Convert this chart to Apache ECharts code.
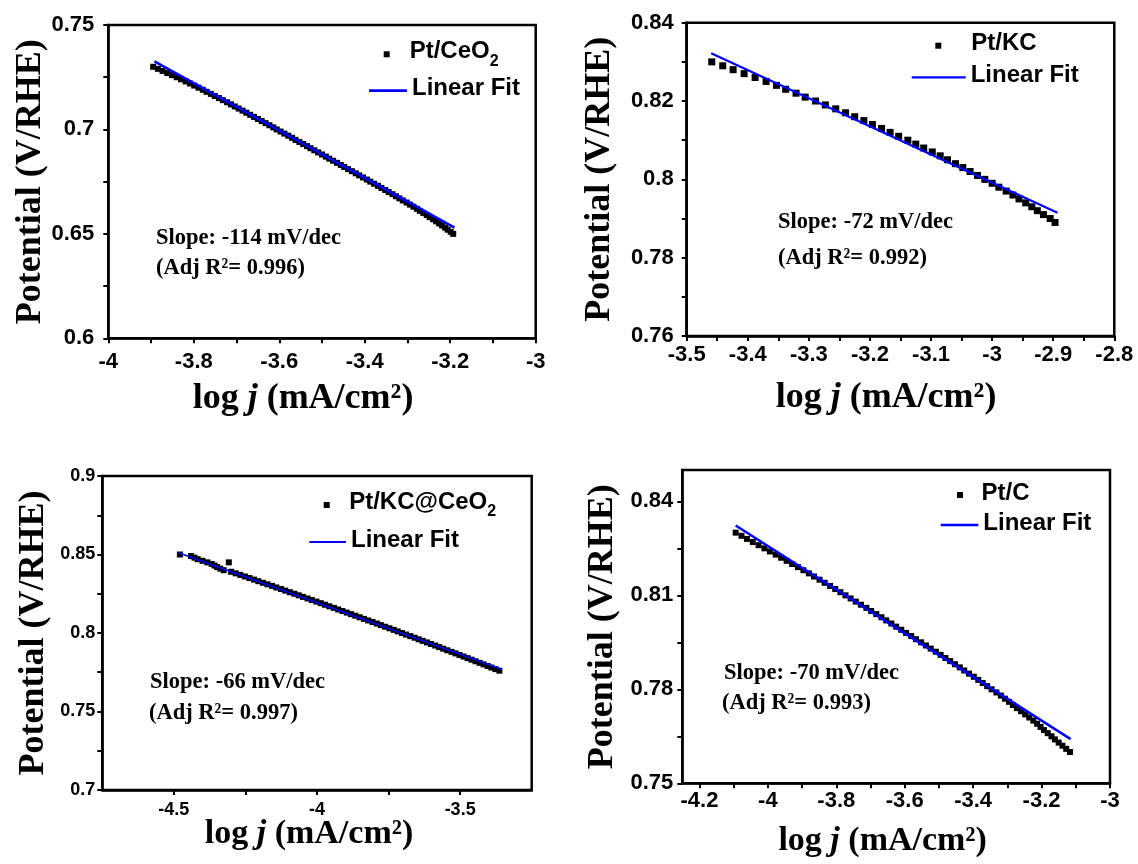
<!DOCTYPE html>
<html>
<head>
<meta charset="utf-8">
<script src="https://cdn.jsdelivr.net/npm/echarts@6/dist/echarts.min.js"></script>
<style>
html,body{margin:0;padding:0;background:#ffffff;}
#chart{width:1138px;height:864px;}
</style>
</head>
<body>
<div id="chart"></div>
<script>
// ---------------- Panel 1: Pt/CeO2 ----------------
const p1Name = 'Pt/CeO2';
const p1X = [-3.895,-3.884,-3.873,-3.862,-3.851,-3.840,-3.830,-3.819,-3.809,-3.799,
  -3.789,-3.779,-3.770,-3.760,-3.751,-3.741,-3.732,-3.722,-3.713,-3.704,
  -3.695,-3.686,-3.677,-3.668,-3.659,-3.650,-3.641,-3.632,-3.623,-3.614,
  -3.606,-3.597,-3.588,-3.579,-3.570,-3.562,-3.553,-3.544,-3.535,-3.527,
  -3.518,-3.509,-3.500,-3.491,-3.483,-3.474,-3.465,-3.456,-3.448,-3.439,
  -3.430,-3.421,-3.413,-3.404,-3.395,-3.387,-3.378,-3.369,-3.361,-3.352,
  -3.344,-3.335,-3.327,-3.319,-3.311,-3.302,-3.294,-3.286,-3.278,-3.271,
  -3.263,-3.255,-3.248,-3.240,-3.233,-3.226,-3.219,-3.212,-3.206,-3.199,
  -3.193];
const p1Y = [0.730,0.729,0.728,0.727,0.726,0.725,0.724,0.723,0.722,0.721,
  0.720,0.719,0.718,0.717,0.716,0.715,0.714,0.713,0.712,0.711,
  0.710,0.709,0.708,0.707,0.706,0.705,0.704,0.703,0.702,0.701,
  0.700,0.699,0.698,0.697,0.696,0.695,0.694,0.693,0.692,0.691,
  0.690,0.689,0.688,0.687,0.686,0.685,0.684,0.683,0.682,0.681,
  0.680,0.679,0.678,0.677,0.676,0.675,0.674,0.673,0.672,0.671,
  0.670,0.669,0.668,0.667,0.666,0.665,0.664,0.663,0.662,0.661,
  0.660,0.659,0.658,0.657,0.656,0.655,0.654,0.653,0.652,0.651,
  0.650];
const p1FitX = [-3.892, -3.190];
const p1FitY = [0.7326, 0.6530];
const p1XTicks = [-4,-3.9,-3.8,-3.7,-3.6,-3.5,-3.4,-3.3,-3.2,-3.1,-3];
const p1XLabels = [-4,-3.8,-3.6,-3.4,-3.2,-3];
const p1YTicks = [0.6,0.625,0.65,0.675,0.7,0.725,0.75];
const p1YLabels = [0.6,0.65,0.7,0.75];
const p1Notes = ['Slope: -114 mV/dec', '(Adj R\u00B2= 0.996)'];

// ---------------- Panel 2: Pt/KC ----------------
const p2Name = 'Pt/KC';
const p2X = [-3.459,-3.441,-3.424,-3.406,-3.388,-3.370,-3.353,-3.338,-3.321,-3.306,
  -3.289,-3.273,-3.256,-3.240,-3.225,-3.210,-3.196,-3.181,-3.167,-3.153,
  -3.138,-3.125,-3.112,-3.098,-3.085,-3.073,-3.060,-3.048,-3.036,-3.024,
  -3.012,-3.000,-2.989,-2.977,-2.966,-2.956,-2.945,-2.935,-2.926,-2.916,
  -2.905,-2.897];
const p2Y = [0.830,0.829,0.828,0.827,0.826,0.825,0.824,0.823,0.822,0.821,
  0.820,0.819,0.818,0.817,0.816,0.815,0.814,0.813,0.812,0.811,
  0.810,0.809,0.808,0.807,0.806,0.805,0.804,0.803,0.802,0.801,
  0.800,0.799,0.798,0.797,0.796,0.795,0.794,0.793,0.792,0.791,
  0.790,0.789];
const p2FitX = [-3.460, -2.893];
const p2FitY = [0.8322, 0.7915];
const p2XTicks = [-3.5,-3.45,-3.4,-3.35,-3.3,-3.25,-3.2,-3.15,-3.1,-3.05,-3,-2.95,-2.9,-2.85,-2.8];
const p2XLabels = [-3.5,-3.4,-3.3,-3.2,-3.1,-3,-2.9,-2.8];
const p2YTicks = [0.76,0.77,0.78,0.79,0.8,0.81,0.82,0.83,0.84];
const p2YLabels = [0.76,0.78,0.8,0.82,0.84];
const p2Notes = ['Slope: -72 mV/dec', '(Adj R\u00B2= 0.992)'];

// ---------------- Panel 3: Pt/KC@CeO2 ----------------
const p3Name = 'Pt/KC@CeO2';
const p3X = [-4.479,-4.440,-4.428,-4.417,-4.400,-4.383,-4.368,-4.358,-4.349,-4.338,-4.326,-4.308,
  -4.300,-4.284,-4.268,-4.252,-4.236,-4.220,-4.205,-4.189,-4.173,-4.157,
  -4.142,-4.126,-4.111,-4.095,-4.079,-4.064,-4.049,-4.033,-4.018,-4.002,
  -3.987,-3.972,-3.957,-3.941,-3.926,-3.911,-3.896,-3.881,-3.866,-3.851,
  -3.836,-3.821,-3.806,-3.791,-3.777,-3.762,-3.747,-3.732,-3.718,-3.703,
  -3.689,-3.674,-3.659,-3.645,-3.631,-3.616,-3.602,-3.587,-3.573,-3.559,
  -3.545,-3.530,-3.516,-3.502,-3.488,-3.474,-3.460,-3.446,-3.432,-3.418,
  -3.404,-3.391,-3.377,-3.363];
const p3Y = [0.850,0.849,0.848,0.847,0.846,0.845,0.844,0.843,0.842,0.841,0.840,0.845,
  0.839,0.838,0.837,0.836,0.835,0.834,0.833,0.832,0.831,0.830,
  0.829,0.828,0.827,0.826,0.825,0.824,0.823,0.822,0.821,0.820,
  0.819,0.818,0.817,0.816,0.815,0.814,0.813,0.812,0.811,0.810,
  0.809,0.808,0.807,0.806,0.805,0.804,0.803,0.802,0.801,0.800,
  0.799,0.798,0.797,0.796,0.795,0.794,0.793,0.792,0.791,0.790,
  0.789,0.788,0.787,0.786,0.785,0.784,0.783,0.782,0.781,0.780,
  0.779,0.778,0.777,0.776];
const p3FitX = [-4.484, -3.355];
const p3FitY = [0.8511, 0.7769];
const p3XTicks = [-4.5,-4.25,-4,-3.75,-3.5];
const p3XLabels = [-4.5,-4,-3.5];
const p3YTicks = [0.7,0.725,0.75,0.775,0.8,0.825,0.85,0.875,0.9];
const p3YLabels = [0.7,0.75,0.8,0.85,0.9];
const p3Notes = ['Slope: -66 mV/dec', '(Adj R\u00B2= 0.997)'];

// ---------------- Panel 4: Pt/C ----------------
const p4Name = 'Pt/C';
const p4X = [-4.094,-4.077,-4.061,-4.044,-4.027,-4.010,-3.994,-3.977,-3.961,-3.945,
  -3.929,-3.912,-3.896,-3.880,-3.865,-3.849,-3.834,-3.818,-3.803,-3.788,
  -3.773,-3.758,-3.743,-3.728,-3.712,-3.698,-3.683,-3.668,-3.654,-3.639,
  -3.625,-3.610,-3.596,-3.581,-3.567,-3.552,-3.538,-3.524,-3.509,-3.495,
  -3.481,-3.467,-3.453,-3.439,-3.426,-3.412,-3.398,-3.385,-3.372,-3.359,
  -3.346,-3.332,-3.319,-3.307,-3.295,-3.284,-3.272,-3.260,-3.248,-3.236,
  -3.224,-3.213,-3.203,-3.193,-3.182,-3.171,-3.161,-3.150,-3.139,-3.128,
  -3.117];
const p4Y = [0.830,0.829,0.828,0.827,0.826,0.825,0.824,0.823,0.822,0.821,
  0.820,0.819,0.818,0.817,0.816,0.815,0.814,0.813,0.812,0.811,
  0.810,0.809,0.808,0.807,0.806,0.805,0.804,0.803,0.802,0.801,
  0.800,0.799,0.798,0.797,0.796,0.795,0.794,0.793,0.792,0.791,
  0.790,0.789,0.788,0.787,0.786,0.785,0.784,0.783,0.782,0.781,
  0.780,0.779,0.778,0.777,0.776,0.775,0.774,0.773,0.772,0.771,
  0.770,0.769,0.768,0.767,0.766,0.765,0.764,0.763,0.762,0.761,
  0.760];
const p4FitX = [-4.094, -3.115];
const p4FitY = [0.8323, 0.7641];
const p4XTicks = [-4.2,-4.1,-4,-3.9,-3.8,-3.7,-3.6,-3.5,-3.4,-3.3,-3.2,-3.1,-3];
const p4XLabels = [-4.2,-4,-3.8,-3.6,-3.4,-3.2,-3];
const p4YTicks = [0.75,0.765,0.78,0.795,0.81,0.825,0.84];
const p4YLabels = [0.75,0.78,0.81,0.84];
const p4Notes = ['Slope: -70 mV/dec', '(Adj R\u00B2= 0.993)'];

const fitName = 'Linear Fit';
const yTitle = 'Potential (V/RHE)';

// ---------------- layout / style (not data) ----------------
const SANS = 'Liberation Sans, Arial, sans-serif';
const SERIF = 'Liberation Serif, Times New Roman, serif';
const BLUE = '#0000ff';

const panels = [
  {name:p1Name, x:p1X, y:p1Y, fx:p1FitX, fy:p1FitY, xt:p1XTicks, xl:p1XLabels, yt:p1YTicks, yl:p1YLabels, notes:p1Notes,
   grid:{left:108.3, top:25, width:427.4, height:313.3}, xr:[-4,-3], yr:[0.6,0.75],
   lab:22, xMargin:13, yMargin:14, titleSize:36, xGap:42, xPad:38, yGap:60,
   sym:6, lw:2.7,
   leg:{sq:[383.7,39.3], sqPad:15, ln:[369,76.7], lnW:38},
   note:[[156,238],[156,268]]},
  {name:p2Name, x:p2X, y:p2Y, fx:p2FitX, fy:p2FitY, xt:p2XTicks, xl:p2XLabels, yt:p2YTicks, yl:p2YLabels, notes:p2Notes,
   grid:{left:686.7, top:22.7, width:427.6, height:313.3}, xr:[-3.5,-2.8], yr:[0.76,0.84],
   lab:22, xMargin:8, yMargin:13, titleSize:36, xGap:44, xPad:29, yGap:69,
   sym:7, lw:2.2,
   leg:{sq:[935.3,31.7], sqPad:25, ln:[911.7,63.3], lnW:54},
   note:[[778,222],[778,258]]},
  {name:p3Name, x:p3X, y:p3Y, fx:p3FitX, fy:p3FitY, xt:p3XTicks, xl:p3XLabels, yt:p3YTicks, yl:p3YLabels, notes:p3Notes,
   grid:{left:102.3, top:476, width:429.4, height:314}, xr:[-4.75,-3.25], yr:[0.7,0.9],
   lab:18, xMargin:11, yMargin:7, titleSize:34, xGap:27, xPad:16, yGap:51,
   sym:6, lw:1.8,
   leg:{sq:[323.7,490], sqPad:14.5, ln:[309.3,528], lnW:36.7},
   note:[[150,682],[149,713]]},
  {name:p4Name, x:p4X, y:p4Y, fx:p4FitX, fy:p4FitY, xt:p4XTicks, xl:p4XLabels, yt:p4YTicks, yl:p4YLabels, notes:p4Notes,
   grid:{left:682.3, top:470, width:427.7, height:313.3}, xr:[-4.25,-3], yr:[0.75,0.85],
   lab:22, xMargin:7, yMargin:9, titleSize:34, xGap:41, xPad:27, yGap:62,
   sym:6, lw:2.5,
   leg:{sq:[957,481], sqPad:13.5, ln:[940.7,511], lnW:37.6},
   note:[[724,673],[722,703]]}
];

const fmt = v => String(+(+v).toFixed(3));

function legendFormatter(name) {
  const m = name.match(/^(.*O)2$/);
  if (m) return '{a|' + m[1] + '}{s|2}';
  return '{a|' + name + '}';
}
const legendRich = {
  a: {fontFamily: SANS, fontWeight: 'bold', fontSize: 24, color: '#000', verticalAlign: 'top', lineHeight: 28},
  s: {fontFamily: SANS, fontWeight: 'bold', fontSize: 16, color: '#000', verticalAlign: 'bottom', lineHeight: 30}
};

const grids = [], xAxes = [], yAxes = [], series = [], legends = [], graphics = [];

panels.forEach((p, i) => {
  grids.push(Object.assign({show: true, borderColor: '#000', borderWidth: 2.5, backgroundColor: 'transparent',
    containLabel: false, outerBoundsMode: 'none'}, p.grid));

  xAxes.push({
    type: 'value', gridIndex: i, min: p.xr[0], max: p.xr[1],
    axisLine: {show: true, onZero: false, lineStyle: {color: '#000', width: 2.5}},
    axisTick: {show: true, inside: false, length: 5, lineStyle: {color: '#000', width: 2}, customValues: p.xt},
    axisLabel: {customValues: p.xl, formatter: fmt, color: '#000', fontFamily: SANS, fontWeight: 'bold',
      fontSize: p.lab, margin: p.xMargin, showMinLabel: true, showMaxLabel: true, hideOverlap: false},
    splitLine: {show: false},
    name: '{a|log }{b|j}{a| (mA/cm\u00B2)}',
    nameLocation: 'middle', nameGap: p.xGap, nameMoveOverlap: false,
    nameTextStyle: {
      padding: [0, p.xPad, 0, 0],
      rich: {
        a: {fontFamily: SERIF, fontWeight: 'bold', fontSize: p.titleSize, color: '#000'},
        b: {fontFamily: SERIF, fontWeight: 'bold', fontStyle: 'italic', fontSize: p.titleSize, color: '#000'}
      }
    }
  });

  yAxes.push({
    type: 'value', gridIndex: i, min: p.yr[0], max: p.yr[1],
    axisLine: {show: true, onZero: false, lineStyle: {color: '#000', width: 2.5}},
    axisTick: {show: true, inside: false, length: 5, lineStyle: {color: '#000', width: 2}, customValues: p.yt},
    axisLabel: {customValues: p.yl, formatter: fmt, color: '#000', fontFamily: SANS, fontWeight: 'bold',
      fontSize: p.lab, margin: p.yMargin, showMinLabel: true, showMaxLabel: true, hideOverlap: false},
    splitLine: {show: false},
    name: yTitle, nameLocation: 'middle', nameRotate: 90, nameGap: p.yGap, nameMoveOverlap: false,
    nameTextStyle: {fontFamily: SERIF, fontWeight: 'bold', fontSize: 36, color: '#000'}
  });

  series.push({
    type: 'scatter', name: p.name, xAxisIndex: i, yAxisIndex: i,
    data: p.x.map((v, k) => [v, p.y[k]]),
    symbol: 'rect', symbolSize: p.sym, itemStyle: {color: '#000', opacity: 1}, z: 2, silent: true
  });
  series.push({
    type: 'line', name: fitName, xAxisIndex: i, yAxisIndex: i,
    data: p.fx.map((v, k) => [v, p.fy[k]]),
    symbol: 'none', showSymbol: false, color: BLUE,
    lineStyle: {color: BLUE, width: p.lw}, itemStyle: {color: BLUE}, z: 3, silent: true
  });

  legends.push({
    data: [{name: p.name}], left: p.leg.sq[0], top: p.leg.sq[1], orient: 'vertical', padding: 0,
    icon: 'rect', itemWidth: 6, itemHeight: 6, selectedMode: false,
    formatter: legendFormatter,
    textStyle: {padding: [0, 0, 0, p.leg.sqPad], lineHeight: 28, rich: legendRich}
  });
  legends.push({
    data: [{name: fitName}], left: p.leg.ln[0], top: p.leg.ln[1], orient: 'vertical', padding: 0,
    icon: 'rect', itemWidth: p.leg.lnW, itemHeight: Math.max(2, p.lw), selectedMode: false,
    formatter: legendFormatter,
    itemStyle: {color: BLUE},
    textStyle: {lineHeight: 28, rich: legendRich}
  });

  p.notes.forEach((t, k) => {
    graphics.push({
      type: 'text', x: p.note[k][0], y: p.note[k][1], silent: true,
      style: {text: t, fill: '#000', font: 'bold 22.5px ' + SERIF, align: 'left', verticalAlign: 'middle'}
    });
  });
});

const chart = echarts.init(document.getElementById('chart'), null, {renderer: 'canvas'});
chart.setOption({
  animation: false,
  backgroundColor: '#ffffff',
  textStyle: {fontFamily: SANS},
  grid: grids,
  xAxis: xAxes,
  yAxis: yAxes,
  legend: legends,
  series: series,
  graphic: graphics
});
</script>
</body>
</html>
